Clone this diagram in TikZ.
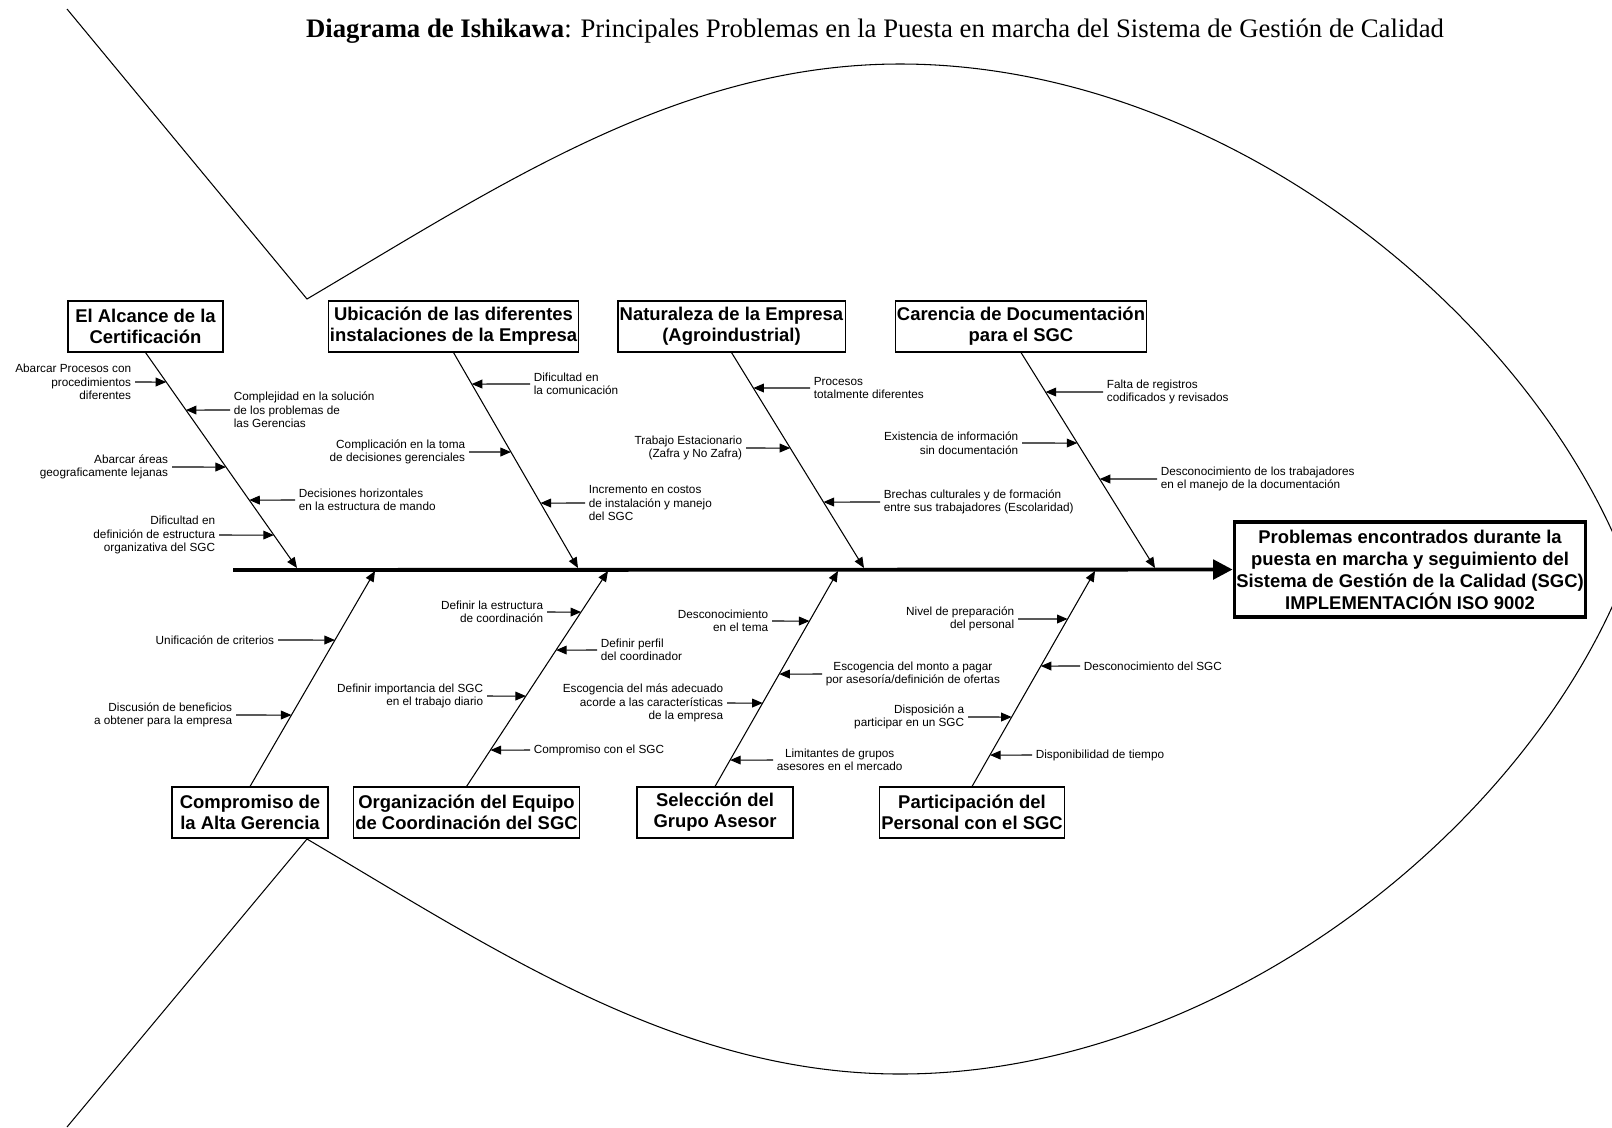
\documentclass[tikz,border=0pt]{standalone}
\usepackage{fontspec}
\setmainfont{Liberation Serif}
\setsansfont{Liberation Sans}
\usepackage{tikz}
\usetikzlibrary{arrows.meta, positioning}
\tikzset{
  catbox/.style={draw, line width=0.6pt, align=center, inner sep=1pt,
                 font=\sffamily\bfseries\fontsize{10.5}{12}\selectfont, minimum height=1.02cm},
  headbox/.style={draw, line width=2.2pt, align=center, inner sep=1pt,
                  font=\sffamily\bfseries\fontsize{10.5}{12.5}\selectfont,
                  minimum width=6.88cm, minimum height=1.9cm},
  causeleft/.style={font=\sffamily\fontsize{6.7}{7.7}\selectfont, align=right, anchor=east, inner sep=2pt},
  causeright/.style={font=\sffamily\fontsize{6.7}{7.7}\selectfont, align=left, anchor=west, inner sep=2pt},
  titletext/.style={font=\fontsize{15.2}{17}\selectfont, inner sep=0pt},
  bonearrow/.style={-{Triangle[length=6pt, width=5pt]}, line width=0.6pt},
  causearrow/.style={-{Triangle[length=6pt, width=5pt]}, line width=0.6pt},
  spinearrow/.style={-{Triangle[length=11pt, width=11pt]}, line width=2.2pt},
  fishline/.style={line width=0.6pt}
}

\begin{document}
\begin{tikzpicture}[x=0.02cm, y=-0.02cm]
\useasboundingbox (0,0) rectangle (1612,1127);

% Title
\node[titletext] (titulo) at (875,31) {\textbf{Diagrama de Ishikawa}: Principales Problemas en la Puesta en marcha del Sistema de Gestión de Calidad};

% Fish outline
\draw[fishline] (67,9) -- (307,299)
  .. controls (500,185) and (680,64) .. (900,64)
  .. controls (1220,64) and (1530,310) .. (1628,569)
  .. controls (1530,828) and (1220,1074) .. (900,1074)
  .. controls (680,1074) and (500,953) .. (307,839) -- (67,1127);

% Head and spine
\node[headbox] (problema) at (1410,569.5) {Problemas encontrados durante la\\puesta en marcha y seguimiento del\\Sistema de Gestión de la Calidad (SGC)\\IMPLEMENTACIÓN ISO 9002};
\coordinate (tail) at (233,570);
\draw[spinearrow] (tail) -- (problema.west);

% Categories (top row)
\node[catbox, minimum width=3.10cm] (alcance) at (145.5,326.5) {El Alcance de la\\Certificación};
\node[catbox, minimum width=4.90cm] (ubicacion) at (453.5,326.5) {Ubicación de las diferentes\\instalaciones de la Empresa};
\node[catbox, minimum width=4.42cm] (naturaleza) at (731.5,326.5) {Naturaleza de la Empresa\\(Agroindustrial)};
\node[catbox, minimum width=4.92cm] (carencia) at (1021,326.5) {Carencia de Documentación\\para el SGC};

% Categories (bottom row)
\node[catbox, minimum width=3.12cm] (compromiso) at (250,812.5) {Compromiso de\\la Alta Gerencia};
\node[catbox, minimum width=4.42cm] (organizacion) at (466.5,812.5) {Organización del Equipo\\de Coordinación del SGC};
\node[catbox, minimum width=3.12cm] (seleccion) at (715,812.5) {Selección del\\Grupo Asesor};
\node[catbox, minimum width=3.64cm] (participacion) at (972,812.5) {Participación del\\Personal con el SGC};

% Bone ends on the spine
\coordinate (alcancetip) at (297,568);
\coordinate (ubicaciontip) at (578,568);
\coordinate (naturalezatip) at (864,568);
\coordinate (carenciatip) at (1155,568);
\coordinate (compromisotip) at (375,571);
\coordinate (organizaciontip) at (608,571);
\coordinate (selecciontip) at (838,571);
\coordinate (participaciontip) at (1095,571);

% Bones
\draw[bonearrow] (alcance.south) -- (alcancetip);
\draw[bonearrow] (ubicacion.south) -- (ubicaciontip);
\draw[bonearrow] (naturaleza.south) -- (naturalezatip);
\draw[bonearrow] (carencia.south) -- (carenciatip);
\draw[bonearrow] (compromiso.north) -- (compromisotip);
\draw[bonearrow] (organizacion.north) -- (organizaciontip);
\draw[bonearrow] (seleccion.north) -- (selecciontip);
\draw[bonearrow] (participacion.north) -- (participaciontip);

% Causes: El Alcance de la Certificacion
\node[causeleft] (alc1) at (135,382) {Abarcar Procesos con\\procedimientos\\diferentes};
\node[causeright] (alc2) at (230,410) {Complejidad en la solución\\de los problemas de\\las Gerencias};
\node[causeleft] (alc3) at (172,467) {Abarcar áreas\\geograficamente lejanas};
\node[causeright] (alc4) at (295,500) {Decisiones horizontales\\en la estructura de mando};
\node[causeleft] (alc5) at (219,535) {Dificultad en\\definición de estructura\\organizativa del SGC};
\draw[causearrow] (alc1.east) -- (intersection of alc1.east--alc1.west and alcance.south--alcancetip);
\draw[causearrow] (alc2.west) -- (intersection of alc2.east--alc2.west and alcance.south--alcancetip);
\draw[causearrow] (alc3.east) -- (intersection of alc3.east--alc3.west and alcance.south--alcancetip);
\draw[causearrow] (alc4.west) -- (intersection of alc4.east--alc4.west and alcance.south--alcancetip);
\draw[causearrow] (alc5.east) -- (intersection of alc5.east--alc5.west and alcance.south--alcancetip);

% Causes: Ubicacion
\node[causeright] (ubi1) at (530,384) {Dificultad en\\la comunicación};
\node[causeleft] (ubi2) at (469,452) {Complicación en la toma\\de decisiones gerenciales};
\node[causeright] (ubi3) at (585,503) {Incremento en costos\\de instalación y manejo\\del SGC};
\draw[causearrow] (ubi1.west) -- (intersection of ubi1.east--ubi1.west and ubicacion.south--ubicaciontip);
\draw[causearrow] (ubi2.east) -- (intersection of ubi2.east--ubi2.west and ubicacion.south--ubicaciontip);
\draw[causearrow] (ubi3.west) -- (intersection of ubi3.east--ubi3.west and ubicacion.south--ubicaciontip);

% Causes: Naturaleza
\node[causeright] (nat1) at (810,388) {Procesos\\totalmente diferentes};
\node[causeleft] (nat2) at (746,448) {Trabajo Estacionario\\(Zafra y No Zafra)};
\node[causeright] (nat3) at (880,502) {Brechas culturales y de formación\\entre sus trabajadores (Escolaridad)};
\draw[causearrow] (nat1.west) -- (intersection of nat1.east--nat1.west and naturaleza.south--naturalezatip);
\draw[causearrow] (nat2.east) -- (intersection of nat2.east--nat2.west and naturaleza.south--naturalezatip);
\draw[causearrow] (nat3.west) -- (intersection of nat3.east--nat3.west and naturaleza.south--naturalezatip);

% Causes: Carencia
\node[causeright] (car1) at (1103,392) {Falta de registros\\codificados y revisados};
\node[causeleft] (car2) at (1022,443) {Existencia de información\\sin documentación};
\node[causeright] (car3) at (1157,479) {Desconocimiento de los trabajadores\\en el manejo de la documentación};
\draw[causearrow] (car1.west) -- (intersection of car1.east--car1.west and carencia.south--carenciatip);
\draw[causearrow] (car2.east) -- (intersection of car2.east--car2.west and carencia.south--carenciatip);
\draw[causearrow] (car3.west) -- (intersection of car3.east--car3.west and carencia.south--carenciatip);

% Causes: Compromiso
\node[causeleft] (com1) at (278,640) {Unificación de criterios};
\node[causeleft] (com2) at (236,715) {Discusión de beneficios\\a obtener para la empresa};
\draw[causearrow] (com1.east) -- (intersection of com1.east--com1.west and compromiso.north--compromisotip);
\draw[causearrow] (com2.east) -- (intersection of com2.east--com2.west and compromiso.north--compromisotip);

% Causes: Organizacion
\node[causeleft] (org1) at (547,612) {Definir la estructura\\de coordinación};
\node[causeright] (org2) at (597,650) {Definir perfil\\del coordinador};
\node[causeleft] (org3) at (487,696) {Definir importancia del SGC\\en el trabajo diario};
\node[causeright] (org4) at (530,750) {Compromiso con el SGC};
\draw[causearrow] (org1.east) -- (intersection of org1.east--org1.west and organizacion.north--organizaciontip);
\draw[causearrow] (org2.west) -- (intersection of org2.east--org2.west and organizacion.north--organizaciontip);
\draw[causearrow] (org3.east) -- (intersection of org3.east--org3.west and organizacion.north--organizaciontip);
\draw[causearrow] (org4.west) -- (intersection of org4.east--org4.west and organizacion.north--organizaciontip);

% Causes: Seleccion
\node[causeleft] (sel1) at (772,621) {Desconocimiento\\en el tema};
\node[causeright, align=center] (sel2) at (822,674) {Escogencia del monto a pagar\\por asesoría/definición de ofertas};
\node[causeleft] (sel3) at (727,703) {Escogencia del más adecuado\\acorde a las características\\de la empresa};
\node[causeright, align=center] (sel4) at (773,760) {Limitantes de grupos\\asesores en el mercado};
\draw[causearrow] (sel1.east) -- (intersection of sel1.east--sel1.west and seleccion.north--selecciontip);
\draw[causearrow] (sel2.west) -- (intersection of sel2.east--sel2.west and seleccion.north--selecciontip);
\draw[causearrow] (sel3.east) -- (intersection of sel3.east--sel3.west and seleccion.north--selecciontip);
\draw[causearrow] (sel4.west) -- (intersection of sel4.east--sel4.west and seleccion.north--selecciontip);

% Causes: Participacion
\node[causeleft] (par1) at (1018,619) {Nivel de preparación\\del personal};
\node[causeright] (par2) at (1080,666) {Desconocimiento del SGC};
\node[causeleft] (par3) at (968,717) {Disposición a\\participar en un SGC};
\node[causeright] (par4) at (1032,755) {Disponibilidad de tiempo};
\draw[causearrow] (par1.east) -- (intersection of par1.east--par1.west and participacion.north--participaciontip);
\draw[causearrow] (par2.west) -- (intersection of par2.east--par2.west and participacion.north--participaciontip);
\draw[causearrow] (par3.east) -- (intersection of par3.east--par3.west and participacion.north--participaciontip);
\draw[causearrow] (par4.west) -- (intersection of par4.east--par4.west and participacion.north--participaciontip);

\end{tikzpicture}
\end{document}
